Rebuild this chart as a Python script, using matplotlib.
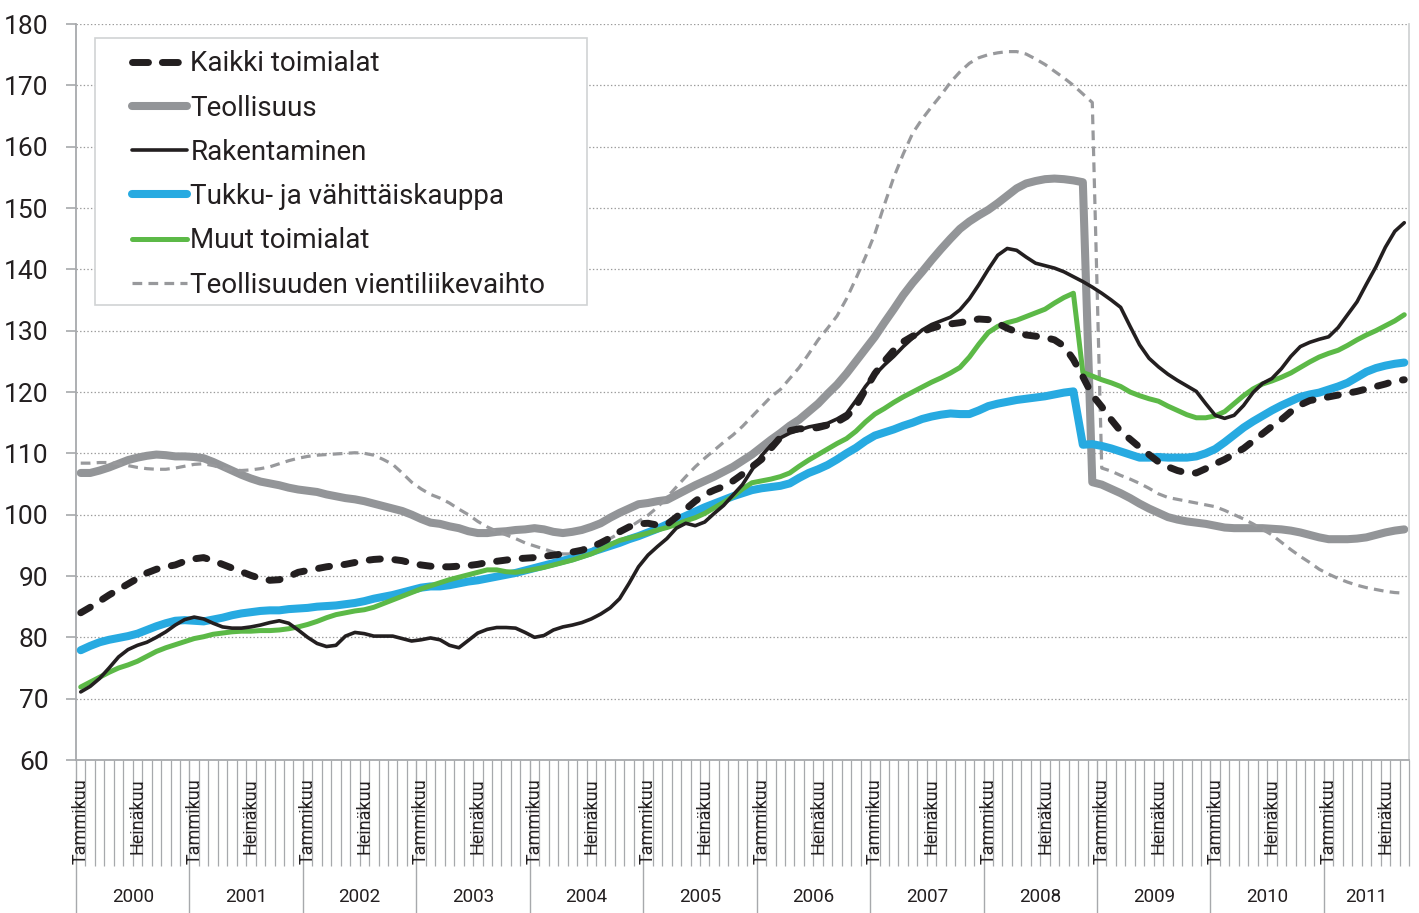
import matplotlib.pyplot as plt
import matplotlib.transforms as mtransforms
from matplotlib.lines import Line2D
from matplotlib.patches import Rectangle
import numpy as np

plt.rcParams['font.family'] = ['Roboto', 'DejaVu Sans']
plt.rcParams['lines.scale_dashes'] = False

# monthly index values, Jan 2000 - Sep 2011
years = [str(y) for y in range(2000, 2012)]
jan_label = 'Tammikuu'
jul_label = 'Heinäkuu'
legend_labels = ['Kaikki toimialat', 'Teollisuus', 'Rakentaminen',
                 'Tukku- ja vähittäiskauppa', 'Muut toimialat',
                 'Teollisuuden vientiliikevaihto']

kaikki = [84.0, 84.9, 85.9, 86.9, 87.8, 88.7, 89.6, 90.5, 91.1, 91.5, 91.8, 92.4,
          92.8, 93.0, 92.5, 91.9, 91.3, 90.7, 90.1, 89.6, 89.3, 89.4, 89.9, 90.6,
          90.9, 91.2, 91.5, 91.7, 91.9, 92.2, 92.5, 92.7, 92.8, 92.7, 92.5, 92.1,
          91.8, 91.6, 91.5, 91.5, 91.6, 91.7, 91.9, 92.2, 92.4, 92.6, 92.8, 92.9,
          93.0, 93.2, 93.4, 93.6, 93.9, 94.2, 94.7, 95.4, 96.2, 97.2, 98.0, 98.5,
          98.6, 98.3, 98.4, 99.6, 100.9, 102.2, 103.3, 104.0, 104.6, 105.5, 106.6, 107.8,
          109.0, 110.8, 112.6, 113.7, 114.0, 114.0, 114.2, 114.6, 115.1, 116.0, 117.6, 120.4,
          123.0, 125.0, 126.8, 128.2, 129.1, 129.8, 130.4, 130.8, 131.1, 131.3, 131.6, 131.9,
          131.8, 131.2, 130.4, 129.8, 129.3, 129.1, 128.9, 128.5, 127.5, 125.3, 122.5, 119.5,
          117.6, 115.5, 113.6, 112.3, 111.0, 109.8, 108.6, 107.8, 107.2, 106.8, 106.8, 107.5,
          108.3, 109.0, 109.9, 110.8, 112.0, 113.2, 114.4, 115.5, 116.8, 117.9, 118.6, 118.9,
          119.2, 119.5, 119.8, 120.1, 120.5, 120.9, 121.3, 121.8, 122.0]

teollisuus = [106.8, 106.8, 107.2, 107.7, 108.3, 108.9, 109.3, 109.6, 109.8, 109.7, 109.5, 109.5,
              109.4, 109.2, 108.6, 107.9, 107.2, 106.5, 105.9, 105.4, 105.1, 104.8, 104.4, 104.1,
              103.9, 103.7, 103.3, 103.0, 102.7, 102.5, 102.2, 101.8, 101.4, 101.0, 100.6, 100.0,
              99.3, 98.7, 98.5, 98.1, 97.8, 97.3, 97.0, 97.0, 97.2, 97.3, 97.5, 97.6,
              97.8, 97.6, 97.2, 97.0, 97.2, 97.5, 98.0, 98.6, 99.5, 100.3, 101.0, 101.7,
              101.9, 102.2, 102.4, 103.2, 104.0, 104.8, 105.5, 106.2, 107.0, 107.8, 108.8, 109.8,
              111.0, 112.2, 113.3, 114.5, 115.5, 116.8, 118.1, 119.7, 121.2, 123.0, 125.0, 127.0,
              129.0, 131.3, 133.5, 135.8, 137.8, 139.6, 141.5, 143.3, 145.0, 146.6, 147.8, 148.8,
              149.7, 150.8, 152.0, 153.2, 154.0, 154.4, 154.7, 154.8, 154.7, 154.5, 154.2, 105.3,
              104.9, 104.2, 103.5, 102.7, 101.8, 101.0, 100.3, 99.6, 99.2, 98.9, 98.7, 98.5,
              98.2, 97.9, 97.8, 97.8, 97.8, 97.8, 97.7, 97.6, 97.4, 97.1, 96.7, 96.3,
              96.0, 96.0, 96.0, 96.1, 96.3, 96.7, 97.1, 97.4, 97.6]

rakentaminen = [71.1, 72.0, 73.3, 75.0, 76.8, 78.0, 78.7, 79.2, 80.0, 80.9, 82.0, 82.9,
                83.3, 83.0, 82.3, 81.7, 81.5, 81.5, 81.7, 82.0, 82.4, 82.7, 82.3, 81.2,
                80.0, 79.0, 78.5, 78.7, 80.2, 80.8, 80.6, 80.2, 80.2, 80.2, 79.8, 79.4,
                79.6, 79.9, 79.6, 78.7, 78.3, 79.5, 80.7, 81.3, 81.6, 81.6, 81.5, 80.8,
                80.0, 80.3, 81.2, 81.7, 82.0, 82.4, 83.0, 83.8, 84.8, 86.3, 88.8, 91.5,
                93.4, 94.8, 96.1, 97.8, 98.6, 98.2, 98.8, 100.2, 101.5, 103.2, 104.9, 107.3,
                109.6, 111.3, 112.5, 113.3, 113.8, 114.3, 114.6, 114.9, 115.6, 116.5, 118.6, 120.9,
                122.8, 124.4, 125.8, 127.4, 128.8, 130.1, 131.0, 131.6, 132.2, 133.4, 135.2, 137.5,
                140.0, 142.3, 143.4, 143.1, 142.0, 141.0, 140.6, 140.2, 139.6, 138.8, 138.0, 137.1,
                136.1, 135.0, 133.8, 130.7, 127.7, 125.5, 124.1, 122.9, 121.9, 121.0, 120.1, 118.1,
                116.2, 115.7, 116.2, 117.8, 119.9, 121.4, 122.2, 123.8, 125.8, 127.4, 128.1, 128.6,
                129.0, 130.5, 132.6, 134.7, 137.6, 140.4, 143.6, 146.2, 147.6]

tukku = [77.9, 78.6, 79.2, 79.6, 79.9, 80.2, 80.6, 81.2, 81.8, 82.3, 82.7, 82.8,
         82.7, 82.6, 82.9, 83.2, 83.6, 83.9, 84.1, 84.3, 84.4, 84.4, 84.6, 84.7,
         84.8, 85.0, 85.1, 85.2, 85.4, 85.6, 85.9, 86.3, 86.6, 86.9, 87.3, 87.7,
         88.1, 88.3, 88.3, 88.5, 88.8, 89.1, 89.3, 89.6, 89.9, 90.2, 90.5, 90.9,
         91.3, 91.7, 92.1, 92.5, 92.9, 93.4, 93.9, 94.4, 94.9, 95.4, 96.0, 96.5,
         97.1, 97.7, 98.4, 99.1, 99.8, 100.5, 101.2, 101.8, 102.4, 103.0, 103.5, 104.0,
         104.3, 104.5, 104.7, 105.1, 106.0, 106.8, 107.4, 108.1, 109.0, 110.0, 110.9, 112.0,
         112.9, 113.4, 113.9, 114.5, 115.0, 115.6, 116.0, 116.3, 116.5, 116.4, 116.4, 117.0,
         117.7, 118.1, 118.4, 118.7, 118.9, 119.1, 119.3, 119.6, 119.9, 120.1, 111.4, 111.5,
         111.2, 110.8, 110.3, 109.8, 109.3, 109.3, 109.4, 109.3, 109.3, 109.3, 109.5, 110.0,
         110.7, 111.8, 113.0, 114.2, 115.2, 116.1, 117.0, 117.8, 118.5, 119.2, 119.6, 119.9,
         120.4, 120.9, 121.5, 122.4, 123.3, 123.9, 124.3, 124.6, 124.8]

muut = [71.9, 72.7, 73.5, 74.3, 75.0, 75.5, 76.1, 76.9, 77.7, 78.3, 78.8, 79.3,
        79.8, 80.1, 80.5, 80.7, 80.9, 81.0, 81.0, 81.1, 81.1, 81.2, 81.4, 81.7,
        82.1, 82.6, 83.2, 83.7, 84.0, 84.3, 84.5, 84.9, 85.5, 86.1, 86.7, 87.3,
        87.9, 88.4, 88.9, 89.4, 89.8, 90.2, 90.6, 91.0, 91.0, 90.7, 90.6, 90.8,
        91.1, 91.4, 91.8, 92.2, 92.6, 93.1, 93.6, 94.3, 95.1, 95.8, 96.2, 96.6,
        97.0, 97.5, 97.9, 98.4, 99.0, 99.5, 100.2, 101.1, 102.0, 103.0, 104.2, 105.2,
        105.5, 105.8, 106.2, 106.8, 107.9, 108.9, 109.8, 110.7, 111.6, 112.4, 113.6, 115.1,
        116.4, 117.3, 118.3, 119.2, 120.0, 120.8, 121.6, 122.3, 123.1, 124.0, 125.7, 127.8,
        129.7, 130.7, 131.3, 131.7, 132.3, 132.9, 133.5, 134.5, 135.4, 136.1, 123.2, 122.6,
        122.0, 121.5, 120.9, 120.0, 119.4, 118.9, 118.5, 117.7, 117.0, 116.3, 115.8, 115.8,
        116.1, 116.8, 118.1, 119.4, 120.5, 121.3, 121.8, 122.4, 123.1, 124.0, 124.9, 125.7,
        126.3, 126.8, 127.6, 128.5, 129.3, 130.0, 130.8, 131.6, 132.6]

vienti = [108.4, 108.4, 108.5, 108.5, 108.3, 108.0, 107.7, 107.5, 107.4, 107.4, 107.6, 107.9,
          108.2, 108.3, 108.0, 107.6, 107.3, 107.2, 107.3, 107.5, 107.8, 108.3, 108.8, 109.2,
          109.5, 109.7, 109.8, 109.9, 110.0, 110.1, 110.0, 109.7, 109.0, 108.2, 106.8, 105.3,
          104.2, 103.3, 102.7, 101.9, 100.9, 100.0, 98.9, 98.0, 97.3, 96.7, 96.1, 95.4,
          94.9, 94.4, 93.9, 93.6, 93.6, 93.8, 94.3, 95.1, 96.1, 97.0, 97.9, 98.9,
          99.9, 101.2, 102.8, 104.5, 106.2, 107.8, 109.2, 110.5, 111.8, 113.0, 114.4, 116.0,
          117.6, 119.2, 120.4, 122.2, 124.0, 126.2, 128.5, 130.4, 132.4, 135.2, 138.5, 142.0,
          145.8, 150.5, 155.0, 158.8, 162.2, 164.5, 166.5, 168.4, 170.5, 172.2, 173.6, 174.5,
          175.0, 175.3, 175.5, 175.5, 175.1, 174.3, 173.4, 172.3, 171.2, 170.0, 168.6, 167.2,
          107.6, 107.1, 106.4, 105.8, 105.1, 104.3, 103.4, 102.8, 102.5, 102.2, 101.9, 101.6,
          101.3, 100.7, 100.0, 99.3, 98.5, 97.6, 96.7, 95.5, 94.3, 93.2, 92.2, 91.1,
          90.3, 89.6, 89.0, 88.5, 88.1, 87.8, 87.5, 87.3, 87.2]

n = len(kaikki)
x = np.arange(n)
gray_axis = '#a7a9ac'
ink = '#231f20'

fig = plt.figure(figsize=(14.19, 9.13), dpi=100)
ax = fig.add_axes([76 / 1419, 1 - 760 / 913, 1333 / 1419, 736 / 913])

l_teol, = ax.plot(x, teollisuus, color='#939598', lw=5.8, solid_capstyle='round', zorder=2)
l_vien, = ax.plot(x, vienti, color='#98999c', lw=2.3, dashes=(7, 4.5), zorder=3)
l_tukku, = ax.plot(x, tukku, color='#27aae1', lw=5.8, solid_capstyle='round', zorder=4)
l_muut, = ax.plot(x, muut, color='#5cb947', lw=3.6, solid_capstyle='round', zorder=5)
l_rak, = ax.plot(x, rakentaminen, color=ink, lw=2.6, solid_capstyle='round', zorder=6)
l_kaik, = ax.plot(x, kaikki, color=ink, lw=5.0, dashes=(8, 10.5),
                  dash_capstyle='round', zorder=7)

ax.set_xlim(-0.5, n - 0.5)
ax.set_ylim(60, 180)
ax.set_yticks(range(60, 181, 10))
ax.yaxis.grid(True, color='#9a9a9a', linestyle=(0, (1, 1.6)), linewidth=0.9)
ax.set_axisbelow(True)

ax.spines['top'].set_visible(False)
for s in ['left', 'bottom', 'right']:
    ax.spines[s].set_color(gray_axis)
    ax.spines[s].set_linewidth(1.3)
ax.spines['right'].set_color('#d1d3d4')

ax.tick_params(axis='y', length=7.2, width=1.2, color=gray_axis, labelsize=19,
               labelcolor=ink, pad=12.5)

# month tick marks and year separators
ax.set_xticks(np.arange(-0.5, n, 12))
ax.set_xticks(np.arange(-0.5, n, 1), minor=True)
ax.tick_params(axis='x', which='major', length=110, width=1.0, color=gray_axis,
               labelbottom=False)
ax.tick_params(axis='x', which='minor', length=76, width=0.9, color=gray_axis)

trans = mtransforms.blended_transform_factory(ax.transData, ax.transAxes)
for i in range(n):
    if i % 12 == 0:
        lab = jan_label
    elif i % 12 == 6:
        lab = jul_label
    else:
        continue
    ax.text(i, -0.0245, lab, transform=trans, rotation=90, ha='center', va='top',
            fontsize=13, color=ink)

for k, yr in enumerate(years):
    start = k * 12
    end = min(start + 12, n)
    ax.text((start + end - 1) / 2, -0.1855, yr, transform=trans, ha='center',
            va='center', fontsize=13.5, color=ink)

# legend box drawn separately (Excel style padding)
box = Rectangle((0.01425, 0.6182), 0.3689, 0.3628, transform=ax.transAxes,
                facecolor='white', edgecolor='#d1d3d4', linewidth=1.2, zorder=9)
ax.add_patch(box)

kaik_proxy = Line2D([], [], color=ink, lw=5.0, dashes=(11.5, 10), dash_capstyle='round')
handles = [kaik_proxy, l_teol, l_rak, l_tukku, l_muut, l_vien]
leg = ax.legend(handles, legend_labels, loc='upper left', bbox_to_anchor=(0.042, 0.964),
                fontsize=20, frameon=False, handlelength=1.98,
                handletextpad=0.12, labelspacing=0.62, borderpad=0,
                borderaxespad=0, labelcolor=ink)
leg.set_zorder(10)

fig.savefig('out.png', dpi=100)
